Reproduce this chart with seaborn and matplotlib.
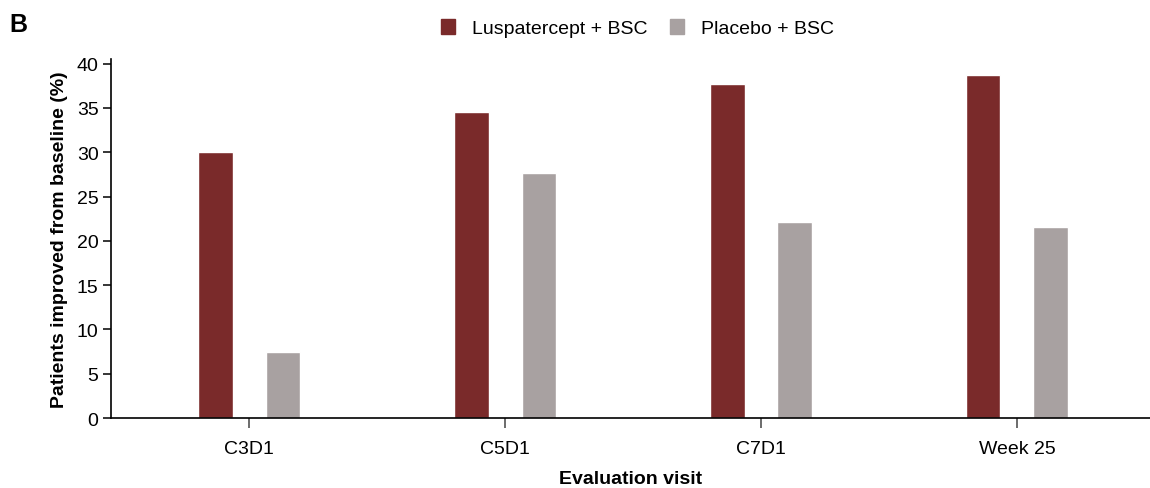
import matplotlib
matplotlib.use("Agg")
import matplotlib.pyplot as plt
import matplotlib.patches as mpatches
import pandas as pd
import seaborn as sns

# Data
visits = ['C3D1', 'C5D1', 'C7D1', 'Week 25']
luspatercept = [30.0, 34.5, 37.7, 38.7]
placebo = [7.4, 27.7, 22.1, 21.6]
groups = ['Luspatercept + BSC', 'Placebo + BSC']
colors = ['#7a2a2a', '#a8a1a1']

df = pd.DataFrame({
    'visit': visits * 2,
    'value': luspatercept + placebo,
    'group': [groups[0]] * len(visits) + [groups[1]] * len(visits),
})

sns.set_style('white')
plt.rcParams['font.family'] = ['Liberation Sans', 'DejaVu Sans']
plt.rcParams['text.color'] = 'black'
plt.rcParams['axes.labelcolor'] = 'black'
plt.rcParams['xtick.color'] = 'black'
plt.rcParams['ytick.color'] = 'black'

fig = plt.figure(figsize=(11.5, 4.89), dpi=100)
ax = fig.add_axes([0.0965, 0.143, 0.9035, 0.734])

sns.barplot(data=df, x='visit', y='value', hue='group', palette=colors,
            width=0.525, gap=0.49, legend=False, ax=ax, saturation=1)

ax.set_xlim(-0.54, 3.52)
ax.set_ylim(0, 40.5)
ax.set_yticks(range(0, 41, 5))
ax.set_xlabel('Evaluation visit', fontsize=14, fontweight='bold', labelpad=9)
ax.set_ylabel('Patients improved from baseline (%)', fontsize=14, fontweight='bold', labelpad=6)

sns.despine(ax=ax)
for s in ['left', 'bottom']:
    ax.spines[s].set_color('black')
    ax.spines[s].set_linewidth(1.2)
ax.tick_params(axis='y', left=True, length=6, width=1.1, color='black', labelsize=14, pad=3)
ax.tick_params(axis='x', bottom=True, length=7, width=1.1, color='#444444', labelsize=14, pad=9)

handles = [mpatches.Patch(color=c, label=g) for c, g in zip(colors, groups)]
fig.legend(handles=handles, loc='center', bbox_to_anchor=(0.554, 0.94), ncol=2,
           frameon=False, fontsize=14, handlelength=0.75, handleheight=0.75,
           columnspacing=1.15, handletextpad=0.85)

fig.text(0.008, 0.935, 'B', fontsize=18, fontweight='bold')

fig.savefig('out.png', dpi=100)
